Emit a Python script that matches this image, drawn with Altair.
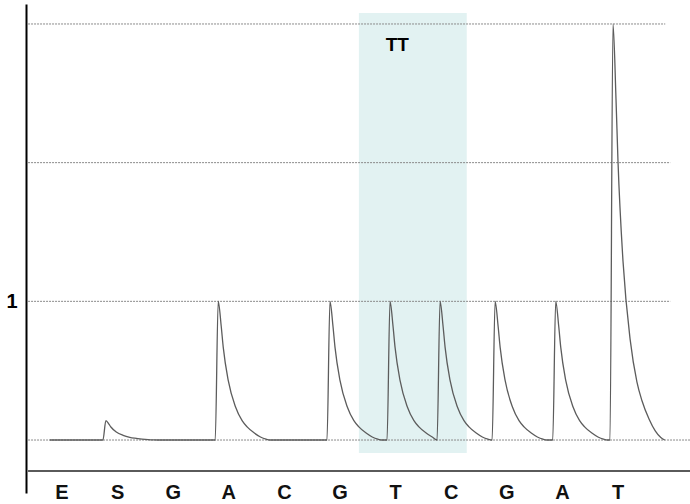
import altair as alt
import pandas as pd

# Dispensation order (x positions are flow indices 0..10)
flows = ["E", "S", "G", "A", "C", "G", "T", "C", "G", "A", "T"]
flow_pos = list(range(len(flows)))

# Peaks: top position (flow units) and height
peak_top = [0.79, 2.81, 4.82, 5.90, 6.80, 7.79, 8.88, 9.91]
peak_height = [0.14, 1.0, 1.0, 1.0, 1.0, 1.0, 1.0, 3.0]

# Peak profile read from one peak: rise width, decay offsets and fractions
rise_width = 0.054
decay_dx = [0.054, 0.09, 0.18, 0.31, 0.43, 0.52, 0.65, 0.76, 0.86, 0.93]
decay_frac = [0.82, 0.67, 0.43, 0.24, 0.14, 0.095, 0.05, 0.022, 0.006, 0.0]
trace_start = -0.22

# Gridlines (signal levels) and where each ends
grid_values = [0, 1, 2, 3]
grid_start = [-0.61, -0.61, -0.61, -0.61]
grid_end = [11.3, 10.94, 10.94, 10.85]
axis_values = [1]

# Highlight box
box_x = [5.34, 7.28]
box_y = [-0.094, 3.08]
box_text = "TT"
box_text_pos = [6.03, 2.85]

# build trace
pts = [(trace_start, 0.0)]
for k, (t, h) in enumerate(zip(peak_top, peak_height)):
    nxt = peak_top[k + 1] - rise_width if k + 1 < len(peak_top) else 99
    pts.append((t - rise_width, 0.0))
    pts.append((t, h))
    for dx, f in zip(decay_dx, decay_frac):
        if t + dx < nxt - 0.005:
            pts.append((t + dx, h * f))
trace = pd.DataFrame(pts, columns=["x", "y"])
trace["order"] = range(len(trace))

xs = alt.Scale(domain=[-0.647, 11.295], nice=False, zero=False)
ys = alt.Scale(domain=[-0.382, 3.144], nice=False, zero=False)
yaxis = alt.Axis(values=axis_values, labelExpr="'1'", ticks=False, grid=False,
                 domainColor="#000000", domainWidth=2, labelFont="Liberation Sans",
                 labelFontSize=20, labelFontWeight="bold", labelColor="#000000",
                 labelPadding=9, title=None)


def X(f="x:Q"):
    return alt.X(f, scale=xs, axis=None)


def Y(f="y:Q"):
    return alt.Y(f, scale=ys, axis=yaxis)


grid_df = pd.DataFrame({"y": grid_values, "x": grid_start, "x2": grid_end})
box_df = pd.DataFrame({"x": [box_x[0]], "x2": [box_x[1]], "y": [box_y[0]], "y2": [box_y[1]]})
flow_df = pd.DataFrame({"x": flow_pos, "label": flows, "y": [-0.382] * len(flows)})
tt_df = pd.DataFrame({"x": [box_text_pos[0]], "y": [box_text_pos[1]], "label": [box_text]})
base_df = pd.DataFrame({"x": [-0.61], "x2": [11.3], "y": [-0.224]})

box = alt.Chart(box_df).mark_rect(color="#e2f2f2").encode(
    x=X(), x2="x2:Q", y=Y(), y2="y2:Q")

grid = alt.Chart(grid_df).mark_rule(color="#8a8a8a", strokeWidth=1, strokeDash=[2, 1]).encode(
    x=X(), x2="x2:Q", y=Y())

baseline = alt.Chart(base_df).mark_rule(color="#5a5a5a", strokeWidth=2).encode(
    x=X(), x2="x2:Q", y=Y())

line = alt.Chart(trace).mark_line(color="#5c5c5c", strokeWidth=1.3, interpolate="monotone").encode(
    x=X(), y=Y(), order="order:Q")

letters = alt.Chart(flow_df).mark_text(font="Liberation Sans", fontSize=20, fontWeight="bold",
                                       color="#111111", baseline="middle").encode(
    x=X(), y=Y(), text="label:N")

tt = alt.Chart(tt_df).mark_text(font="Liberation Sans", fontSize=19, fontWeight="bold",
                                color="#000000", baseline="middle").encode(
    x=X(), y=Y(), text="label:N")

chart = alt.layer(box, grid, baseline, line, letters, tt).properties(
    width=664, height=489,
    autosize=alt.AutoSizeParams(type="none"),
    padding={"left": 26, "top": 4, "right": 0, "bottom": 11},
    background="#ffffff",
).configure_view(stroke=None)

chart.save("out.html", embed_options={"renderer": "svg", "actions": False})
